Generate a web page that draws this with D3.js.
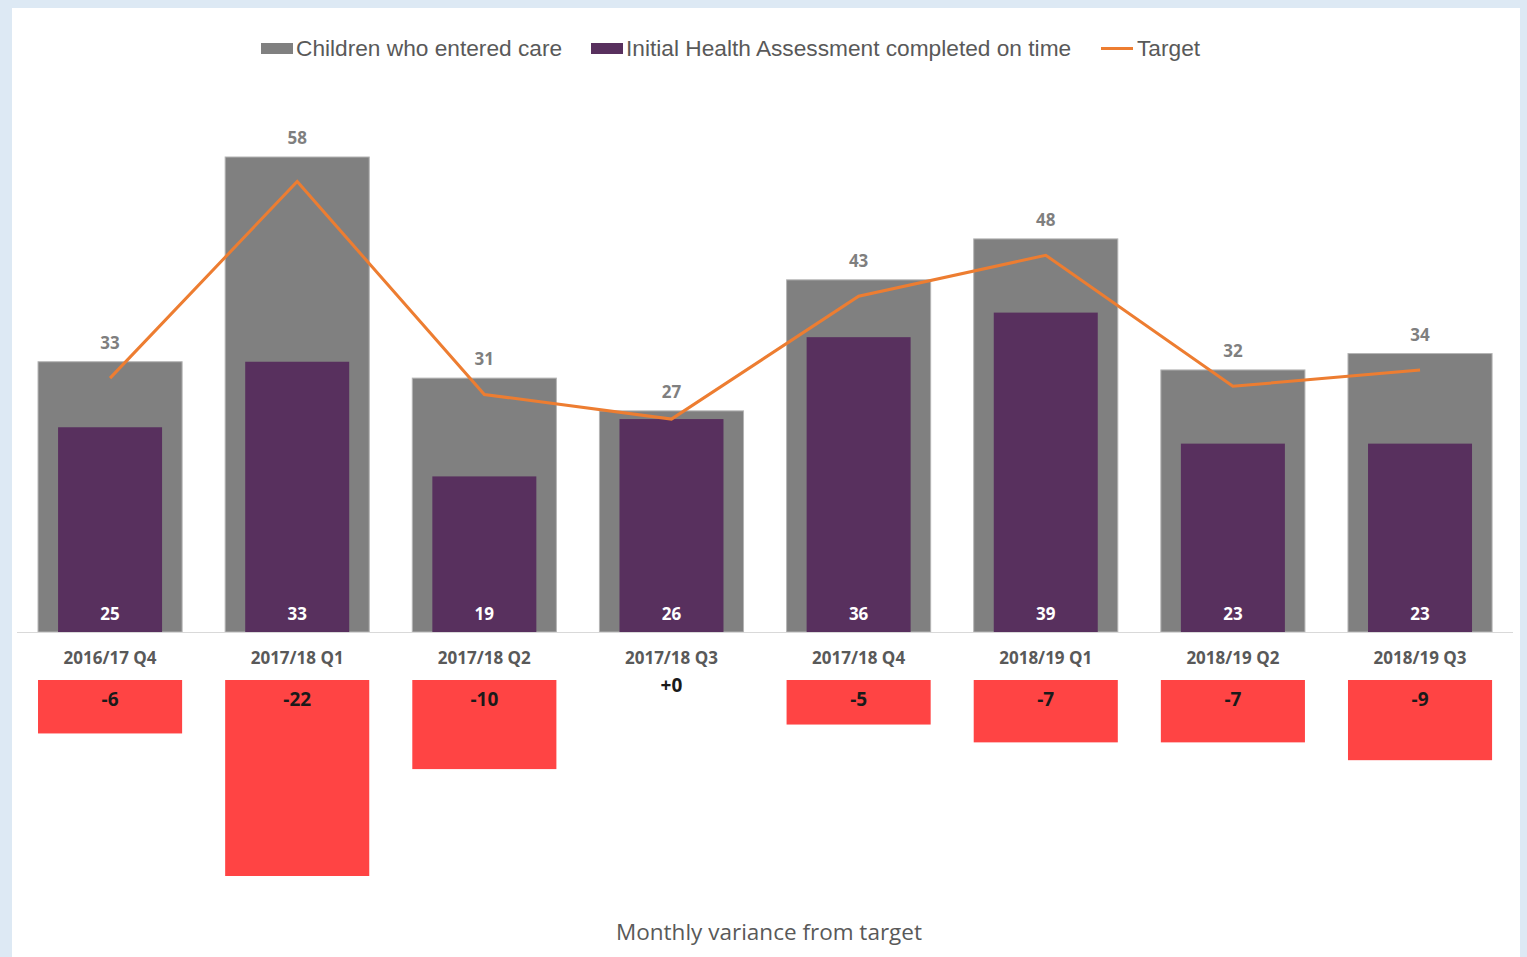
<!DOCTYPE html>
<html>
<head>
<meta charset="utf-8">
<script src="https://cdn.jsdelivr.net/npm/d3@7"></script>
<style>
  body { margin: 0; background: #dde9f4; }
  svg { display: block; }
</style>
</head>
<body>
<svg id="chart" width="1527" height="957"></svg>
<script>
var quarters = ["2016/17 Q4", "2017/18 Q1", "2017/18 Q2", "2017/18 Q3", "2017/18 Q4", "2018/19 Q1", "2018/19 Q2", "2018/19 Q3"];
var entered = [33, 58, 31, 27, 43, 48, 32, 34];
var onTime = [25, 33, 19, 26, 36, 39, 23, 23];
var target = [31, 55, 29, 26, 41, 46, 30, 32];
var variance = [-6, -22, -10, 0, -5, -7, -7, -9];
var legendLabels = ["Children who entered care", "Initial Health Assessment completed on time", "Target"];

var svg = d3.select("#chart");
var baseY = 632, varTop = 680;

svg.append("rect")
    .attr("x", 12).attr("y", 8)
    .attr("width", 1508).attr("height", 957)
    .attr("fill", "#fff");

var x = d3.scaleBand()
    .domain(quarters)
    .range([16.5, 1513.6])
    .paddingInner(0.23)
    .paddingOuter(0.115);

var y = d3.scaleLinear().domain([0, 58]).range([baseY, 157]);
var v = d3.scaleLinear().domain([0, -22]).range([varTop, 876]);

var innerW = 104;

// grey bars
svg.selectAll(".entered")
    .data(quarters)
  .enter().append("rect")
    .attr("class", "entered")
    .attr("x", function(d) { return x(d); })
    .attr("y", function(d, i) { return y(entered[i]); })
    .attr("width", x.bandwidth())
    .attr("height", function(d, i) { return baseY - y(entered[i]); })
    .attr("fill", "#808080")
    .attr("stroke", "#b4b4b4")
    .attr("stroke-width", 1);

// purple bars
svg.selectAll(".ontime")
    .data(quarters)
  .enter().append("rect")
    .attr("class", "ontime")
    .attr("x", function(d) { return x(d) + (x.bandwidth() - innerW) / 2; })
    .attr("y", function(d, i) { return y(onTime[i]); })
    .attr("width", innerW)
    .attr("height", function(d, i) { return baseY - y(onTime[i]); })
    .attr("fill", "#58305e");

// axis line
svg.append("line")
    .attr("x1", 17).attr("x2", 1513)
    .attr("y1", baseY + 0.5).attr("y2", baseY + 0.5)
    .attr("stroke", "#d9d9d9").attr("stroke-width", 1);

// target line
var line = d3.line()
    .x(function(d, i) { return x(quarters[i]) + x.bandwidth() / 2; })
    .y(function(d) { return y(d); });
svg.append("path")
    .datum(target)
    .attr("d", line)
    .attr("fill", "none")
    .attr("stroke", "#ed7d31")
    .attr("stroke-width", 3);

var labelFont = "'Open Sans', sans-serif";

// labels above grey bars
svg.selectAll(".enteredLbl")
    .data(quarters)
  .enter().append("text")
    .attr("x", function(d) { return x(d) + x.bandwidth() / 2; })
    .attr("y", function(d, i) { return y(entered[i]) - 13; })
    .attr("text-anchor", "middle")
    .style("font", "bold 17px " + labelFont)
    .attr("fill", "#7f7f7f")
    .text(function(d, i) { return entered[i]; });

// labels inside purple bars
svg.selectAll(".onTimeLbl")
    .data(quarters)
  .enter().append("text")
    .attr("x", function(d) { return x(d) + x.bandwidth() / 2; })
    .attr("y", baseY - 12)
    .attr("text-anchor", "middle")
    .style("font", "bold 17px " + labelFont)
    .attr("fill", "#fff")
    .text(function(d, i) { return onTime[i]; });

// category labels
svg.selectAll(".catLbl")
    .data(quarters)
  .enter().append("text")
    .attr("x", function(d) { return x(d) + x.bandwidth() / 2; })
    .attr("y", 664)
    .attr("text-anchor", "middle")
    .style("font", "bold 17px " + labelFont)
    .attr("fill", "#595959")
    .text(function(d) { return d; });

// variance bars
svg.selectAll(".varBar")
    .data(quarters.filter(function(d, i) { return variance[i] < 0; }))
  .enter().append("rect")
    .attr("x", function(d) { return x(d); })
    .attr("y", varTop)
    .attr("width", x.bandwidth())
    .attr("height", function(d) { return v(variance[quarters.indexOf(d)]) - varTop; })
    .attr("fill", "#ff4444");

svg.selectAll(".varLbl")
    .data(quarters)
  .enter().append("text")
    .attr("x", function(d) { return x(d) + x.bandwidth() / 2; })
    .attr("y", function(d, i) { return variance[i] < 0 ? 706 : 692; })
    .attr("text-anchor", "middle")
    .style("font", "bold 19px " + labelFont)
    .attr("fill", "#1a1a1a")
    .text(function(d, i) { return variance[i] < 0 ? String(variance[i]) : "+" + variance[i]; });

// legend
var legFont = "22.7px 'Liberation Sans', Arial, sans-serif";
var leg = svg.append("g");
leg.append("rect").attr("x", 261).attr("y", 43).attr("width", 32).attr("height", 11).attr("fill", "#808080");
leg.append("text").attr("x", 296).attr("y", 56).style("font", legFont).attr("fill", "#595959").text(legendLabels[0]);
leg.append("rect").attr("x", 591).attr("y", 43).attr("width", 32).attr("height", 11).attr("fill", "#58305e");
leg.append("text").attr("x", 626).attr("y", 56).style("font", legFont).attr("fill", "#595959").text(legendLabels[1]);
leg.append("line").attr("x1", 1101).attr("x2", 1133).attr("y1", 48.5).attr("y2", 48.5)
    .attr("stroke", "#ed7d31").attr("stroke-width", 3);
leg.append("text").attr("x", 1137).attr("y", 56).style("font", legFont).attr("fill", "#595959").text(legendLabels[2]);

// bottom caption
svg.append("text")
    .attr("x", 769).attr("y", 940)
    .attr("text-anchor", "middle")
    .style("font", "22.5px " + labelFont)
    .attr("fill", "#595959")
    .text("Monthly variance from target");
</script>
</body>
</html>
